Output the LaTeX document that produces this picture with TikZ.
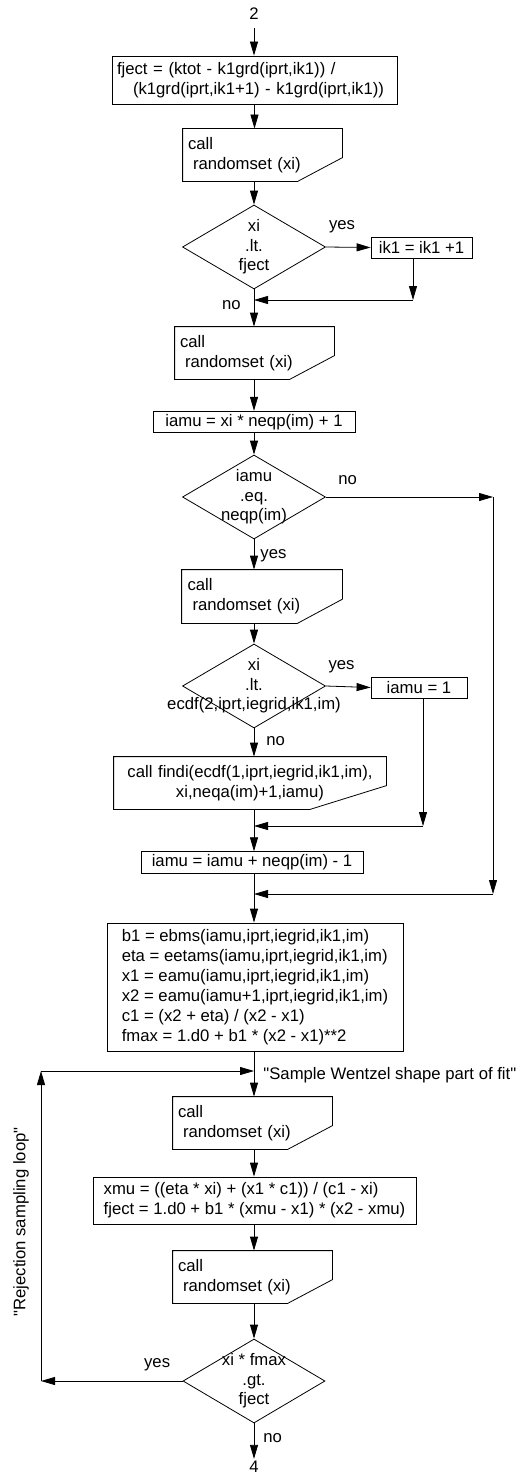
\documentclass[tikz,border=0pt]{standalone}
\usepackage{fontspec}
\setmainfont{Liberation Sans}[Ligatures=TeXOff]
\usetikzlibrary{arrows.meta, calc, shapes.geometric}

\begin{document}
\begin{tikzpicture}[
  x=1pt, y=-1pt,
  line width=0.8pt,
  font=\fontsize{16.7}{20}\selectfont,
  proc/.style={draw, minimum height=21pt, inner sep=3pt},
  textbox/.style={draw, align=left, inner ysep=4pt},
  callbox/.style={minimum width=159pt, minimum height=52pt, text width=149pt, align=left, inner sep=5pt},
  decision/.style={diamond, draw, minimum width=143pt, minimum height=84pt, inner sep=0pt},
  dtext/.style={align=center, inner sep=0pt, font=\fontsize{16.7}{19.5}\selectfont},
  arr/.style={-{Triangle[length=14pt, width=8pt]}},
  lab/.style={inner sep=2pt},
]
\useasboundingbox (0,0) rectangle (526,1477);

% ---------------------------------------------------------------
% upper part: choose ik1 and iamu
% ---------------------------------------------------------------
\node[lab] (start) at (254,14) {2};
\node[textbox, text width=275pt, inner xsep=5pt, minimum height=48pt] (ject) at (254.5,80)
  {fject = (ktot - k1grd(iprt,ik1)) /\\\hspace*{16pt}(k1grd(iprt,ik1+1) - k1grd(iprt,ik1))};
\node[callbox] (call1) at (262.5,155) {call\\\hspace*{5pt}randomset (xi)};
\node[decision, label={[dtext]center:xi\\.lt.\\fject}] (d1) at (254,247) {};
\node[proc, minimum width=101pt] (ik1) at (421.5,247.5) {ik1 = ik1 +1};
\node[callbox] (call2) at (254.5,353) {call\\\hspace*{5pt}randomset (xi)};
\node[proc, minimum width=202pt] (mu1) at (254,422) {iamu = xi * neqp(im) + 1};
\node[decision, label={[dtext]center:iamu\\.eq.\\neqp(im)}] (d2) at (254,497) {};
\node[callbox, minimum width=160pt, minimum height=53pt] (call3) at (262,596.5) {call\\\hspace*{5pt}randomset (xi)};
\node[decision, label={[dtext]center:xi\\.lt.\\ecdf(2,iprt,iegrid,ik1,im)}] (d3) at (254,686) {};
\node[proc, minimum width=96pt] (muone) at (419,687.5) {iamu = 1};
\node[callbox, minimum width=272pt, text width=262pt, align=center] (findi) at (250,783)
  {call findi(ecdf(1,iprt,iegrid,ik1,im),\\xi,neqa(im)+1,iamu)};
\node[proc, minimum width=222pt] (mu2) at (252,862.5) {iamu = iamu + neqp(im) - 1};

% junctions on the main line
\coordinate (j1) at (254,300);
\coordinate (j2) at (254,826);
\coordinate (j3) at (254,894);
\coordinate (r2) at (493,497);

% ---------------------------------------------------------------
% lower part: rejection sampling loop
% ---------------------------------------------------------------
\node[textbox, minimum width=296pt, minimum height=128pt] (pars) at (255,987)
  {b1 = ebms(iamu,iprt,iegrid,ik1,im)\\
   eta = eetams(iamu,iprt,iegrid,ik1,im)\\
   x1 = eamu(iamu,iprt,iegrid,ik1,im)\\
   x2 = eamu(iamu+1,iprt,iegrid,ik1,im)\\
   c1 = (x2 + eta) / (x2 - x1)\\
   fmax = 1.d0 + b1 * (x2 - x1)**2};
\node[callbox] (call4) at (252.5,1123) {call\\\hspace*{5pt}randomset (xi)};
\node[textbox, minimum width=323pt, minimum height=47pt] (xmu) at (254.5,1200.5)
  {xmu = ((eta * xi) + (x1 * c1)) / (c1 - xi)\\
   fject = 1.d0 + b1 * (xmu - x1) * (x2 - xmu)};
\node[callbox] (call5) at (252.5,1277) {call\\\hspace*{5pt}randomset (xi)};
\node[decision, minimum width=142pt, label={[dtext]center:xi * fmax\\.gt.\\fject}] (d4) at (254,1381) {};
\node[lab] (stop) at (254,1467) {4};
\node[lab, rotate=90] (looplab) at (21,1222) {"Rejection sampling loop"};

\coordinate (j4) at (254,1071);
\coordinate (loopa) at (41,1381);
\coordinate (loopb) at (41,1071);

% call boxes with the cut corner
\foreach \c in {call1,call2,call3,findi,call4,call5}
  \draw (\c.north west) -- (\c.north east) -- ($(\c.south east)!0.45!(\c.north east)$)
    -- ($(\c.south east)!0.28!(\c.south west)$) -- (\c.south west) -- cycle;

% connectors
\draw[arr, shorten <=6pt] (start) -- (start |- ject.north);
\draw[arr] (ject.south) -- (ject.south |- call1.north);
\draw[arr] (d1.north |- call1.south) -- (d1.north);
\draw[arr] (d1.east) -- (ik1.west) node[pos=0.36, lab, above=12pt]{yes};
\draw[arr] ([xshift=-8.5pt]ik1.south) -- ([xshift=-8.5pt]ik1.south |- j1);
\draw[arr] ([xshift=-8.5pt]ik1.south |- j1) -- (j1);
\draw[arr] (d1.south) -- (d1.south |- call2.north) node[pos=0.42, lab, left=11pt]{no};
\draw[arr] (call2.south -| j1) -- (j1 |- mu1.north);
\draw[arr] (mu1) -- (d2);
\draw[arr] (d2.east) -- (r2) node[pos=0.13, lab, above=10pt]{no};
\draw[arr] (r2) -- (r2 |- j3);
\draw[arr] (r2 |- j3) -- (j3);
\draw[arr] (d2.south) -- (d2.south |- call3.north) node[pos=0.55, lab, right=4pt]{yes};
\draw[arr] (d3.north |- call3.south) -- (d3.north);
\draw[arr] (d3.east) -- (muone.west) node[pos=0.35, lab, above=11pt]{yes};
\draw[arr] ([xshift=4pt]muone.south) -- ([xshift=4pt]muone.south |- j2);
\draw[arr] ([xshift=4pt]muone.south |- j2) -- (j2);
\draw[arr] (d3.south) -- (d3.south |- findi.north) node[pos=0.45, lab, right=10pt]{no};
\draw[arr] (j2 |- findi.south) -- (j2 |- mu2.north);
\draw[arr] (j3 |- mu2.south) -- (j3 |- pars.north);
\draw[arr] (j4 |- pars.south) -- (j4 |- call4.north)
  node[pos=0.52, lab, right=7pt]{"Sample Wentzel shape part of fit"};
\draw[arr] (j4 |- call4.south) -- (j4 |- xmu.north);
\draw[arr] (j4 |- xmu.south) -- (j4 |- call5.north);
\draw[arr] (j4 |- call5.south) -- (d4.north);
\draw[arr] (d4.west) -- (loopa) node[pos=0.18, lab, above=8pt]{yes};
\draw[arr] (loopa) -- (loopb);
\draw[arr] (loopb) -- (j4);
\draw[arr] (d4.south) -- (stop) node[pos=0.41, lab, right=7pt]{no};

\end{tikzpicture}
\end{document}
